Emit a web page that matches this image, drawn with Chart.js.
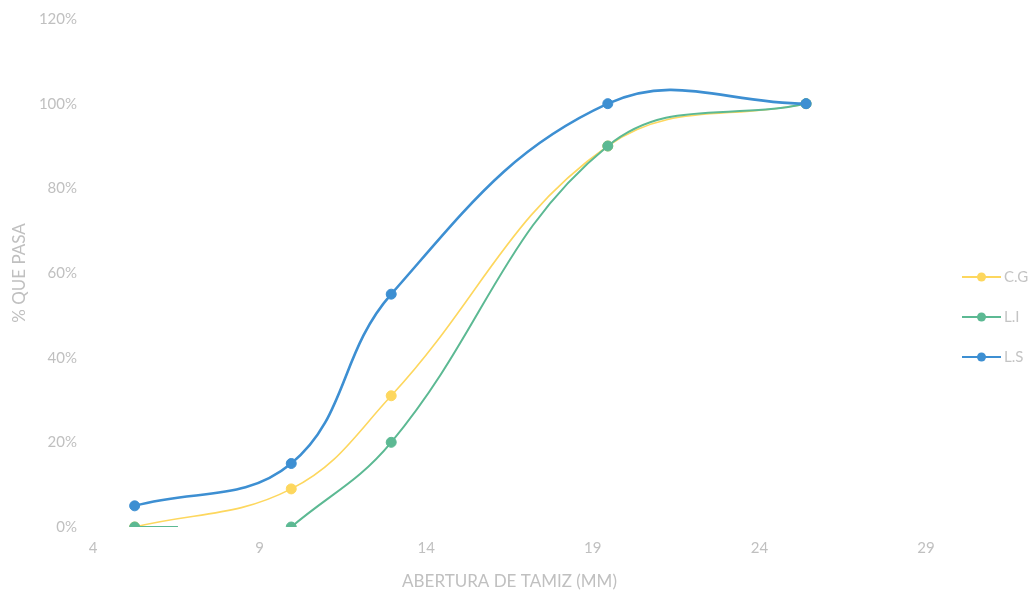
<!DOCTYPE html>
<html>
<head>
<meta charset="utf-8">
<script src="https://cdn.jsdelivr.net/npm/chart.js@4/dist/chart.umd.min.js"></script>
<style>
  html, body { margin: 0; padding: 0; background: #ffffff; }
  #wrap { width: 1035px; height: 592px; position: relative; }
</style>
</head>
<body>
<div id="wrap"><canvas id="c" width="1035" height="592"></canvas></div>
<script>
// Sieve openings (mm) and cumulative percent passing
const aberturas = [5.25, 9.95, 12.95, 19.45, 25.4];
const seriesNames = ['C.G', 'L.I', 'L.S'];
const pasaCG = [0, 9, 31, 90, 100];
const pasaLI = [0, 0, 20, 90, 100];
const pasaLS = [5, 15, 55, 100, 100];
// short flat stub drawn after the first L.I point
const stubLI = [6.55, 0];
const xTicks = [4, 9, 14, 19, 24, 29];
const yTicks = [0, 20, 40, 60, 80, 100, 120];

const colors = ['#fdd75e', '#5cb993', '#3d8fd2'];
const widths = [1.6, 2, 2.6];

function toPoints(vals) {
  return aberturas.map((x, i) => ({ x: x, y: vals[i] }));
}

const liPoints = toPoints(pasaLI);
// first point, stub end, break, rest of the curve
const liData = [liPoints[0], { x: stubLI[0], y: stubLI[1] }, { x: 8, y: null }].concat(liPoints.slice(1));
const liRadius = liData.map((p, i) => (i === 1 || i === 2) ? 0 : 5);

const datasets = [
  { label: seriesNames[0], data: toPoints(pasaCG), order: 2, pointRadius: 5 },
  { label: seriesNames[1], data: liData, order: 1, pointRadius: liRadius },
  { label: seriesNames[2], data: toPoints(pasaLS), order: 0, pointRadius: 5 }
].map((d, i) => Object.assign(d, {
  borderColor: colors[i],
  backgroundColor: colors[i],
  pointBackgroundColor: colors[i],
  pointBorderColor: colors[i],
  pointBorderWidth: 1,
  borderWidth: widths[i],
  tension: 0.4,
  spanGaps: false,
  fill: false
}));

const fontFamily = 'Lato, "Open Sans", sans-serif';

// Legend on the right: line with a centred marker, then the series name
const sideLegend = {
  id: 'sideLegend',
  afterDraw(chart) {
    const ctx = chart.ctx;
    const x0 = 962, x1 = 1001, ys = [277, 317, 357];
    ctx.save();
    chart.data.datasets.forEach((ds, i) => {
      const y = ys[i];
      ctx.strokeStyle = ds.borderColor;
      ctx.lineWidth = 2.2;
      ctx.beginPath();
      ctx.moveTo(x0, y);
      ctx.lineTo(x1, y);
      ctx.stroke();
      ctx.fillStyle = ds.borderColor;
      ctx.beginPath();
      ctx.arc((x0 + x1) / 2, y, 4.5, 0, Math.PI * 2);
      ctx.fill();
      ctx.fillStyle = '#c4c4c4';
      ctx.font = '15px ' + fontFamily;
      ctx.textAlign = 'left';
      ctx.textBaseline = 'middle';
      ctx.fillText(ds.label, x1 + 3, y);
    });
    ctx.restore();
  }
};

const tickFont = { family: fontFamily, size: 15 };
const titleFont = { family: fontFamily, size: 17 };

new Chart(document.getElementById('c'), {
  type: 'line',
  data: { datasets: datasets },
  options: {
    responsive: false,
    animation: false,
    layout: { padding: { top: 19, right: 109, bottom: 0, left: 0 } },
    plugins: { legend: { display: false }, tooltip: { enabled: false } },
    scales: {
      x: {
        type: 'linear',
        min: xTicks[0],
        max: xTicks[xTicks.length - 1],
        afterBuildTicks(axis) { axis.ticks = xTicks.map(v => ({ value: v })); },
        afterFit(axis) { axis.height = 65; },
        grid: { display: false, drawTicks: false },
        border: { display: false },
        ticks: { color: '#c0c0c0', font: tickFont, padding: 12, maxRotation: 0 },
        title: { display: true, text: 'ABERTURA DE TAMIZ (MM)', color: '#c0c0c0', font: titleFont, padding: { top: 4, bottom: 0 } }
      },
      y: {
        min: yTicks[0],
        max: yTicks[yTicks.length - 1],
        afterBuildTicks(axis) { axis.ticks = yTicks.map(v => ({ value: v })); },
        afterFit(axis) { axis.width = 93; axis.paddingTop = 0; },
        grid: { display: false, drawTicks: false },
        border: { display: false },
        ticks: { color: '#c0c0c0', font: tickFont, padding: 16, callback: v => v + '%' },
        title: { display: true, text: '% QUE PASA', color: '#c0c0c0', font: titleFont, padding: { top: 9, bottom: 0 } }
      }
    }
  },
  plugins: [sideLegend]
});
</script>
</body>
</html>
